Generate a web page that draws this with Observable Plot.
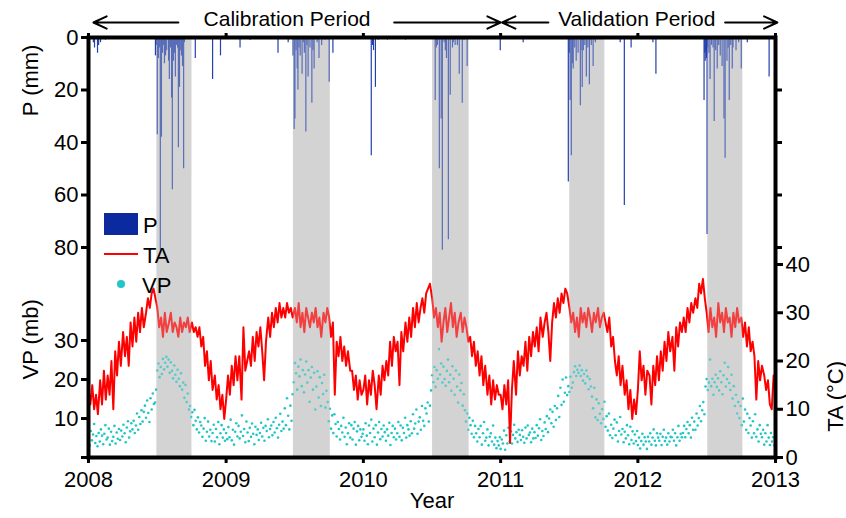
<!DOCTYPE html>
<html><head><meta charset="utf-8">
<script src="https://cdn.jsdelivr.net/npm/d3@7"></script>
<script src="https://cdn.jsdelivr.net/npm/@observablehq/plot@0.6"></script>
<style>
body{margin:0;background:#fff;}
#chart{position:relative;width:846px;height:518px;}
#chart svg{position:absolute;left:0;top:0;}
</style></head><body><div id="chart"></div>
<script>
const FONT = "Liberation Sans, Arial, sans-serif";
const years = [2008, 2009, 2010, 2011, 2012];
const bandStart = ["2008-07-01", "2009-06-29", "2010-07-04", "2011-07-04", "2012-07-05"];
const bandEnd   = ["2008-10-02", "2009-10-05", "2010-10-09", "2011-10-05", "2012-10-06"];

// Air temperature TA (°C), ~5-day readings, 72 per year
const ta2008 = [14,11,15,10,13,9, 16,11,18,12,17,13, 20,10,22,17,24,19, 26,21,25,19,28,23, 29,24,30,26,31,27, 30,33,31,34,35,33, 31,27,29,25,30,26,28,30,26,28,27,25,29,26,28,27,29,26, 28,26,27,25,27,23, 25,19,22,16,20,14, 17,12,15,10,13,8];
const ta2009 = [12,17,13,19,15,21, 16,21,12,27,18,20, 22,19,25,20,26,23, 27,22,16,24,29,25, 30,27,31,28,32,29, 31,29,32,30,31,29, 31,28,32,27,30,26,31,29,27,30,28,31,27,29,25,30,28,31, 29,25,28,13,24,21, 25,20,23,19,22,18, 18,14,17,12,16,13];
const ta2010 = [14,17,11,16,13,18, 15,10,17,13,19,16, 20,17,24,19,25,22, 24,15,26,22,28,24, 29,25,31,27,32,28, 31,33,30,34,35,36, 33,29,31,27,30,24,28,31,26,29,32,27,30,25,28,30,26,29, 27,24,25,21,24,19, 22,17,21,15,19,13, 17,11,16,12,15,13];
const ta2011 = [13,10,15,11,16,3, 14,20,13,22,17,21, 19,24,18,25,21,26, 23,27,22,29,25,28, 30,26,20,28,32,29, 33,30,34,32,35,34, 31,28,30,26,29,25,31,28,30,27,31,29,26,30,28,31,27,29, 30,28,26,29,23,25, 20,17,21,15,19,13, 16,10,14,8,12,9];
const ta2012 = [14,22,16,19,13,18, 17,11,19,15,21,16, 22,18,24,20,26,22, 25,18,27,23,28,26, 29,26,31,28,32,30, 33,31,36,34,37,33, 30,26,31,27,29,25,32,28,30,26,31,28,29,25,30,27,31,28, 29,25,28,23,27,22, 24,21,12,20,16,19, 17,14,16,11,10,17];

// Vapour pressure VP (mb), 3-day readings, 122 per year
const vp2008 = [5.2,3.1,6.8,4.4,5.9,8.6,3.7,5.5,2.9,6.3, 4.1,7.2,5.6,3.4,6.1,8.3,4.6,5.1,7.4,3.3, 6.6,4.2,5.3,8.1,3.6,6.4,4.8,7.3,4.5,6.9, 5.4,8.4,6.2,3.9,7.7,9.3,5.1,6.7,8.8,7.2, 9.4,6.3,8.2,11.3,7.1,10.4,8.6,12.1,9.2,11.7, 13.3,10.2,14.6,11.4,9.1,15.2,12.3,16.4,13.7,14.1, 17.4,22.3,24.1,20.6,23.2,21.4,25.3,22.6,24.3,25.8, 23.3,25.1,21.7,24.4,22.2,20.3,23.6,21.2,19.4,22.5, 20.2,18.3,21.6,17.4,19.2,15.3,18.6,14.2,16.4,12.3, 13.2,10.4,11.6,8.3,12.2,9.4,7.2,10.3,6.4,9.1, 8.2,5.3,7.4,10.1,4.3,6.6,9.2,5.4,7.1,4.2, 6.3,8.4,4.1,7.3,5.2,9.1,3.4,6.2,8.3,5.1, 7.2,4.3];
const vp2009 = [6.3,4.7,7.8,5.2,9.7,4.4,7.1,3.3,6.6,8.8, 5.4,8.1,4.9,6.6,10.8,5.5,7.3,3.9,9.2,6.4, 4.2,7.6,5.3,8.7,6.1,3.4,7.9,5.8,7.2,4.5, 6.3,8.9,5.4,7.6,4.3,8.1,6.8,9.8,5.2,7.3, 8.2,5.7,9.1,6.4,10.2,7.5,5.1,8.4,11.2,6.8, 9.2,7.4,12.6,8.3,15.2,10.7,7.2,13.3,9.4,16.2, 19.3,24.2,21.6,17.4,23.3,20.8,25.1,18.3,22.4,16.7, 21.3,24.6,19.2,22.4,14.3,20.5,23.2,17.4,21.7,12.3, 18.2,22.1,15.4,20.6,13.2,19.1,16.3,21.2,12.8,17.1, 14.2,9.3,12.5,7.4,10.8,6.3,11.1,8.6,5.4,9.1, 7.3,4.6,8.1,6.4,10.2,5.3,7.7,3.4,6.2,8.8, 5.1,8.3,4.6,7.4,9.1,3.3,6.7,8.1,4.4,7.2, 5.3,6.1];
const vp2010 = [7.2,4.3,8.8,5.6,3.4,8.2,6.3,9.7,4.1,7.4, 5.2,8.3,3.3,6.4,9.1,4.7,7.3,5.4,8.2,6.5, 4.3,7.2,5.6,8.9,3.2,6.3,8.1,5.2,7.4,4.6, 6.2,9.1,5.3,8.2,4.4,7.6,6.3,10.2,5.1,8.3, 7.2,5.6,9.3,6.2,11.1,7.4,8.7,12.3,6.1,9.2, 10.3,7.1,13.2,9.4,8.1,12.6,11.3,14.1,9.2,13.3, 17.2,21.1,19.3,23.2,18.1,22.4,20.2,27.8,21.3,24.1, 19.2,23.3,20.1,18.4,22.2,25.1,19.3,21.2,17.1,23.4, 20.2,16.1,22.3,18.2,14.1,21.3,17.2,19.1,13.3,16.2, 12.1,9.2,11.3,7.1,10.2,8.3,6.1,9.4,5.2,8.1, 6.2,4.1,7.3,5.2,8.1,3.3,6.2,9.1,4.3,5.1, 7.2,3.1,5.3,6.2,4.1,8.2,3.3,5.1,2.4,4.2, 3.1,5.2];
const vp2011 = [2.2,4.1,3.3,6.2,1.8,5.1,3.2,6.8,4.1,6.2, 3.3,5.1,8.2,4.3,6.1,3.2,7.1,5.3,4.2,6.3, 5.1,3.2,7.3,4.1,8.2,5.3,6.1,3.2,7.2,4.3, 6.1,4.2,8.3,5.1,7.2,9.1,4.3,6.2,5.1,8.2, 7.3,10.1,6.2,9.3,12.1,8.2,11.3,7.1,13.2,9.1, 12.3,15.1,10.2,17.3,13.1,19.2,14.3,16.1,20.2,15.3, 18.1,16.2,20.3,17.1,19.2,21.4,23.1,20.2,22.3,21.1, 23.2,20.1,22.4,19.2,21.1,18.3,22.1,20.2,17.1,19.3, 18.2,15.1,12.3,17.2,10.1,14.3,9.2,13.1,11.2,8.3, 12.1,9.2,14.1,7.3,10.2,6.1,11.3,5.2,8.1,4.3, 7.2,9.1,5.3,8.2,4.1,6.3,10.1,5.2,7.1,3.3, 6.2,4.1,8.3,5.2,3.1,7.2,4.3,6.1,3.2,5.1, 4.2,6.3].map((v, i) => v + [0, 0.5, 0.3, 0.7, 0.2, 0.6, 0.4, 0.8][i % 8]);
const vp2012 = [3.2,5.1,2.3,4.2,6.1,3.3,5.2,4.1,2.2,5.3, 4.1,6.2,3.3,5.1,7.2,4.3,3.1,6.2,5.1,4.3, 6.1,3.2,5.3,7.1,4.2,5.1,3.3,6.2,4.1,5.3, 5.2,7.1,4.3,6.2,3.1,5.2,8.1,4.3,6.1,5.2, 6.3,8.1,5.2,7.3,9.1,6.2,8.3,5.1,10.2,7.1, 9.2,7.1,11.3,8.2,10.1,13.2,9.3,12.1,14.2,11.1, 18.2,20.1,17.3,19.2,25.1,18.3,20.2,16.1,19.3,21.2, 18.1,20.3,17.2,22.1,19.3,16.2,21.1,24.3,18.2,20.1, 23.2,19.1,17.3,21.2,15.1,18.3,13.2,16.1,11.3,14.2, 10.1,13.2,8.3,15.1,9.2,12.3,7.1,11.2,6.3,10.1, 8.2,5.1,9.3,6.2,11.1,5.3,7.2,4.1,8.3,6.1, 5.2,7.1,3.3,6.2,4.1,8.3,5.1,3.2,6.3,4.1, 5.2,3.1];

// Daily precipitation P (mm) on rain days
const pDates = ["2008-01-14","2008-01-17","2008-01-25","2008-01-28","2008-02-02","2008-02-15","2008-06-27","2008-06-29","2008-07-02","2008-07-04","2008-07-05","2008-07-08","2008-07-10","2008-07-13","2008-07-16","2008-07-18","2008-07-21","2008-07-24","2008-07-27","2008-07-29","2008-08-01","2008-08-03","2008-08-06","2008-08-09","2008-08-11","2008-08-14","2008-08-17","2008-08-19","2008-08-22","2008-08-25","2008-08-27","2008-08-30","2008-09-01","2008-09-04","2008-09-07","2008-09-10","2008-09-12","2008-10-11","2008-11-26","2008-12-17",
"2009-02-07","2009-03-06","2009-05-19","2009-06-15","2009-06-28","2009-07-01","2009-07-03","2009-07-06","2009-07-09","2009-07-11","2009-07-14","2009-07-17","2009-07-22","2009-07-25","2009-07-28","2009-08-01","2009-08-04","2009-08-07","2009-08-12","2009-08-17","2009-08-20","2009-08-23","2009-08-31","2009-09-05","2009-09-12","2009-09-21","2009-10-02","2009-10-12",
"2010-01-22","2010-01-25","2010-01-28","2010-02-02","2010-02-10","2010-03-06","2010-04-23","2010-07-11","2010-07-14","2010-07-17","2010-07-22","2010-07-27","2010-07-30","2010-08-04","2010-08-07","2010-08-10","2010-08-15","2010-08-20","2010-08-26","2010-08-28","2010-09-02","2010-09-08","2010-09-13","2010-09-21","2010-09-26","2010-10-04","2010-12-31",
"2011-03-02","2011-06-30","2011-07-03","2011-07-05","2011-07-08","2011-07-11","2011-07-13","2011-07-17","2011-07-21","2011-07-26","2011-08-01","2011-08-03","2011-08-06","2011-08-09","2011-08-13","2011-08-17","2011-08-21","2011-08-25","2011-08-30","2011-09-04","2011-09-10","2011-11-15","2011-11-26","2011-12-14",
"2012-02-10","2012-02-18","2012-06-25","2012-06-27","2012-06-28","2012-06-30","2012-07-01","2012-07-02","2012-07-03","2012-07-05","2012-07-08","2012-07-11","2012-07-15","2012-07-19","2012-07-22","2012-07-26","2012-07-30","2012-08-03","2012-08-07","2012-08-12","2012-08-17","2012-08-20","2012-08-25","2012-08-28","2012-08-31","2012-09-04","2012-09-08","2012-09-10","2012-09-18","2012-09-25","2012-10-02","2012-10-18","2012-12-15"];
const pValues = [2,4,6,3,2,1,7,3,37,5,8,4,81,38,6,3,10,7,5,1,9,16,4,23,58,9,6,15,3,4,42,19,5,7,11,50,2,8,16,7,
4,1,6,2,7,35,31,5,12,20,4,7,14,2,6,36,3,15,4,25,5,12,2,8,3,1,17,6,
45,3,5,19,1,1,1,24,4,3,50,31,81,2,5,8,77,22,4,2,3,3,14,25,1,11,5,
2,55,6,24,45,10,12,4,9,6,26,5,19,5,3,15,4,18,3,11,2,2,64,4,
2,14,24,6,9,5,8,7,75,4,6,16,3,4,32,5,12,3,7,11,31,46,9,4,24,3,12,4,5,2,12,2,15];

// annotation arrows (tail -> head) and labels
const arrowFrom = ["2008-08-27", "2010-03-24", "2011-05-08", "2012-08-20"];
const arrowTo   = ["2008-01-14", "2011-01-01", "2011-01-05", "2013-01-06"];
const periodLabels = ["Calibration Period", "Validation Period"];
const periodLabelAt = ["2009-06-12", "2011-12-29"];

const yearTicks = ["2008","2009","2010","2011","2012","2013"];
const pTicks = [0, 20, 40, 60, 80];
const vpTicks = [0, 10, 20, 30];
const taTicks = [0, 10, 20, 30, 40];

// ---------- build tables ----------
const D = s => new Date(s + "T00:00:00Z");
const bands = bandStart.map((s, i) => ({x1: D(s), x2: D(bandEnd[i])}));
const taYears = [ta2008, ta2009, ta2010, ta2011, ta2012];
const vpYears = [vp2008, vp2009, vp2010, vp2011, vp2012];
const taData = [], vpData = [];
years.forEach((y, k) => {
  const start = new Date(Date.UTC(y, 0, 1));
  const len = d3.utcDay.count(start, new Date(Date.UTC(y + 1, 0, 1)));
  taYears[k].forEach((v, i) => taData.push({date: d3.utcDay.offset(start, Math.round(i * len / 72)), ta: v}));
  vpYears[k].forEach((v, i) => vpData.push({date: d3.utcDay.offset(start, i * 3), vp: v}));
});
const pData = pDates.map((d, i) => ({date: D(d), p: pValues[i]}));
const arrows = arrowFrom.map((d, i) => ({x1: D(d), x2: D(arrowTo[i])}));
const labels = periodLabels.map((t, i) => ({text: t, date: D(periodLabelAt[i])}));

const W = 846, H = 518;
const xScale = {type: "utc", domain: [D("2008-01-01"), D("2013-01-01")], axis: null};
const base = {width: W, height: H, marginLeft: 88, marginRight: 71, marginTop: 37, marginBottom: 61,
  style: {background: "transparent", fontFamily: FONT, overflow: "visible", color: "black"}};
const FS = 22;
const chart = document.getElementById("chart");

// Layer 1: bands + precipitation
chart.append(Plot.plot({...base, x: xScale,
  y: {domain: [0, 80], range: [37, 247], axis: null},
  marks: [
    Plot.rect(bands, {x1: "x1", x2: "x2", fill: "#d3d3d3"}),
    Plot.ruleX(pData, {x: "date", y1: 0, y2: "p", stroke: "#2340ad", strokeWidth: 1.2}),
    Plot.axisY({anchor: "left", ticks: pTicks, tickSize: 7, tickPadding: 3, strokeWidth: 3, fontSize: FS, label: null}),
    Plot.axisY({anchor: "right", ticks: pTicks.slice(1), tickSize: 6, tickFormat: () => "", strokeWidth: 3, label: null}),
    Plot.text(["P (mm)"], {text: d => d, y: () => 30, frameAnchor: "left", dx: -58, rotate: -90, fontSize: FS, fontFamily: FONT})
  ]}));

// Layer 2: vapour pressure
chart.append(Plot.plot({...base, x: xScale,
  y: {domain: [0, 30], range: [457, 340], axis: null},
  marks: [
    Plot.dot(vpData, {x: "date", y: "vp", r: 1.3, fill: "#22c6c6", stroke: null}),
    Plot.axisY({anchor: "left", ticks: vpTicks, tickFormat: d => d === 0 ? "" : d, tickSize: 7, tickPadding: 3, strokeWidth: 3, fontSize: FS, label: null}),
    Plot.text(["VP (mb)"], {text: d => d, y: () => 20, frameAnchor: "left", dx: -58, rotate: -90, fontSize: FS, fontFamily: FONT})
  ]}));

// Layer 3: air temperature
chart.append(Plot.plot({...base, x: xScale,
  y: {domain: [0, 40], range: [457, 264], axis: null},
  marks: [
    Plot.line(taData, {x: "date", y: "ta", stroke: "#ff0000", strokeWidth: 2}),
    Plot.axisY({anchor: "right", ticks: taTicks, tickSize: 7, tickPadding: 3, strokeWidth: 3, fontSize: FS, label: null}),
    Plot.text(["TA (°C)"], {text: d => d, y: () => 20, frameAnchor: "right", dx: 60, rotate: -90, fontSize: FS, fontFamily: FONT})
  ]}));

// Layer 4: band tint, frame, x axes, annotations
chart.append(Plot.plot({...base, x: xScale,
  y: {domain: [0, 80], range: [37, 247], axis: null},
  marks: [
    Plot.rect(bands, {x1: "x1", x2: "x2", fill: "#d3d3d3", fillOpacity: 0.3}),
    Plot.frame({stroke: "black", strokeWidth: 4}),
    Plot.axisX({anchor: "bottom", ticks: yearTicks.map(D), tickFormat: "%Y", tickSize: 6, tickPadding: 8, strokeWidth: 3, fontSize: FS, label: null}),
    Plot.axisX({anchor: "top", ticks: yearTicks.map(D), tickFormat: () => "", tickSize: 5, strokeWidth: 3, label: null}),
    Plot.text(["Year"], {text: d => d, frameAnchor: "bottom", dy: 50, fontSize: FS, fontFamily: FONT}),
    Plot.arrow(arrows, {x1: "x1", x2: "x2", y1: 0, y2: 0, dy: -15, bend: 0, stroke: "black", strokeWidth: 2, headLength: 11, headAngle: 50}),
    Plot.text(labels, {x: "date", y: 0, text: "text", dy: -18, fontSize: 21, fontFamily: FONT})
  ]}));

// Legend
const leg = d3.select(chart).append("svg").attr("width", W).attr("height", H)
  .style("font-family", FONT).style("font-size", FS + "px");
leg.append("rect").attr("x", 104).attr("y", 213).attr("width", 34).attr("height", 22).attr("fill", "#0a2a9e");
leg.append("text").attr("x", 143).attr("y", 225).attr("dy", "0.36em").text("P");
leg.append("line").attr("x1", 104).attr("x2", 138).attr("y1", 254).attr("y2", 254).attr("stroke", "#ff0000").attr("stroke-width", 2);
leg.append("text").attr("x", 143).attr("y", 255).attr("dy", "0.36em").text("TA");
leg.append("circle").attr("cx", 121).attr("cy", 284).attr("r", 4).attr("fill", "#22c6c6");
leg.append("text").attr("x", 142).attr("y", 285).attr("dy", "0.36em").text("VP");
</script></body></html>
